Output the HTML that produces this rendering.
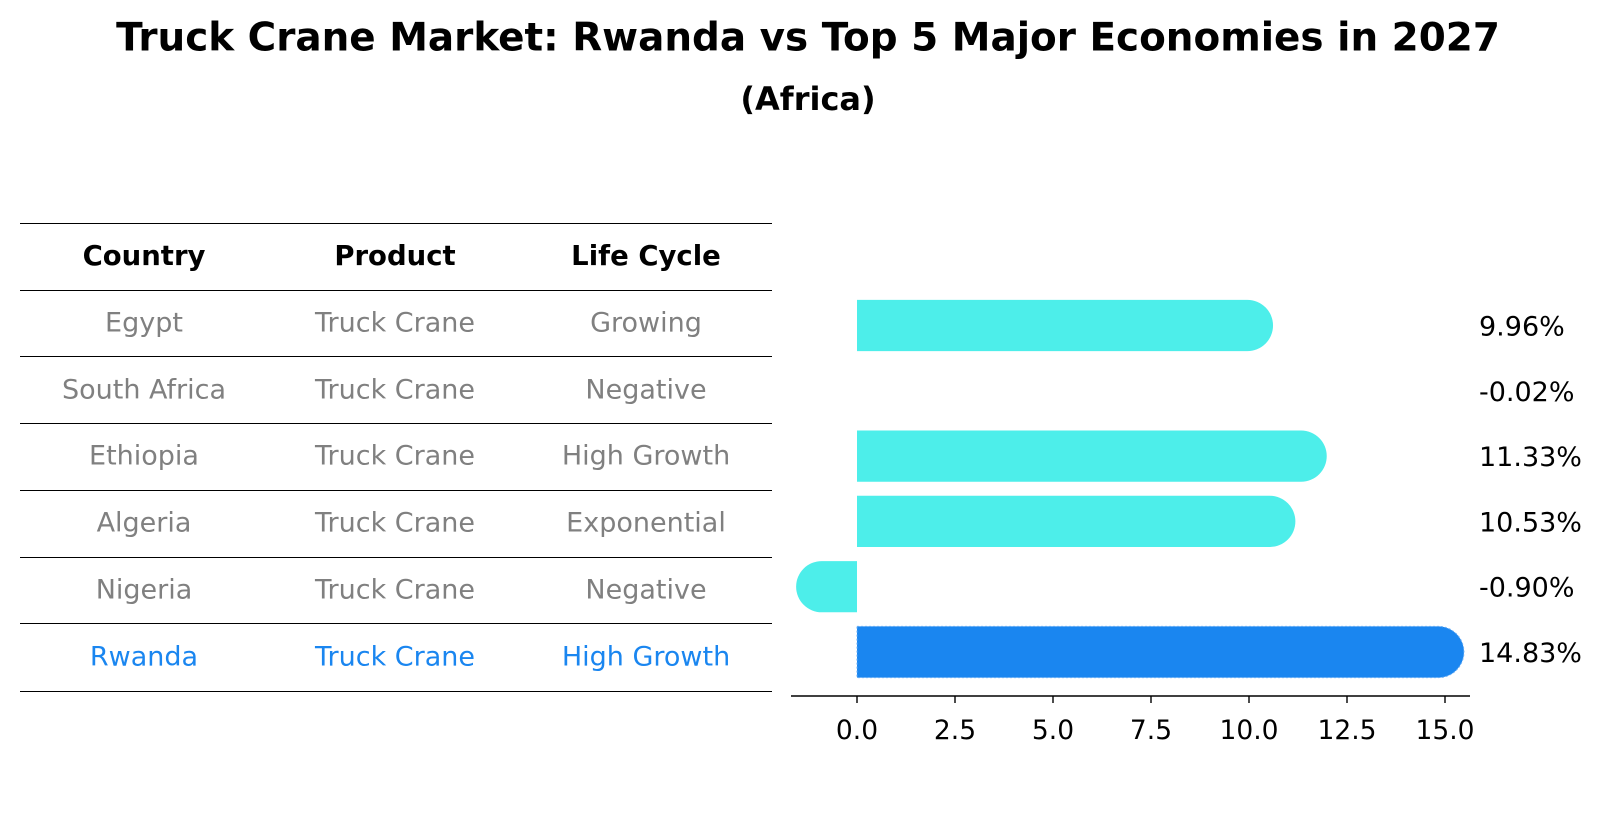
<!DOCTYPE html>
<html><head><meta charset="utf-8"><style>
body{margin:0;background:#fff;font-family:"DejaVu Sans","Liberation Sans",sans-serif;}
#root{position:relative;width:1604px;height:823px;overflow:hidden;}
.t{position:absolute;white-space:nowrap;transform:translate(-50%,-50%);}
.hl{position:absolute;left:20px;width:752px;height:1.4px;background:#000;}
</style></head><body>
<div id="root">
<div class="t" style="left:808px;top:38px;font-size:38.9px;font-weight:bold;">Truck Crane Market: Rwanda vs Top 5 Major Economies in 2027</div>
<div class="t" style="left:808px;top:99px;font-size:32px;font-weight:bold;">(Africa)</div>
<div id="table"></div>
<svg id="chart" width="1604" height="823" style="position:absolute;left:0;top:0;font-family:'DejaVu Sans','Liberation Sans',sans-serif;"></svg>
</div>
<script>
const countries=["Egypt","South Africa","Ethiopia","Algeria","Nigeria","Rwanda"];
const lifecycle=["Growing","Negative","High Growth","Exponential","Negative","High Growth"];
const values=[9.96,-0.02,11.33,10.53,-0.90,14.83];
const ticks=[0,2.5,5,7.5,10,12.5,15];

const tbl=document.getElementById('table');
const lines=[223,290,356,423,490,557,623,691];
lines.forEach(y=>{const d=document.createElement('div');d.className='hl';d.style.top=y+'px';


tbl.appendChild(d);});
const cols=[144,395,646];
function cell(txt,x,y,st,nm){const d=document.createElement('div');d.className='t';d.textContent=txt;d.style.left=x+'px';d.style.top=y+'px';Object.assign(d.style,st);


tbl.appendChild(d);}
["Country","Product","Life Cycle"].forEach((h,i)=>cell(h,cols[i],256,{fontSize:'27.5px',fontWeight:'bold'},'table-header'));
countries.forEach((c,r)=>{const y=323+r*66.7;const col=c==="Rwanda"?'#1a86f0':'#808080';
[c,"Truck Crane",lifecycle[r]].forEach((t,i)=>cell(t,cols[i],y,{fontSize:'27px',color:col},'table-cell'));});

const svg=document.getElementById('chart');const NS='http://www.w3.org/2000/svg';
const x0=857,ppu=39.2;const X=v=>x0+v*ppu;
const Y=i=>325.5+i*65.3;const r=25.6;
function el(t,a){const e=document.createElementNS(NS,t);for(const k in a)e.setAttribute(k,a[k]);svg.appendChild(e);return e;}
values.forEach((v,i)=>{const yc=Y(i);const xe=X(v);const isR=countries[i]==="Rwanda";
if(Math.abs(xe-x0)<1){return;}
let d;
if(v>=0){d=`M${x0},${yc-r} L${xe},${yc-r} A${r},${r} 0 0 1 ${xe},${yc+r} L${x0},${yc+r} Z`;}
else{d=`M${x0},${yc-r} L${xe},${yc-r} A${r},${r} 0 0 0 ${xe},${yc+r} L${x0},${yc+r} Z`;}
const p=el('path',{d:d,fill:isR?'#1a86f0':'#4deeea'});
if(isR){p.setAttribute('stroke','#6aaef5');p.setAttribute('stroke-dasharray','2,2');}


});
values.forEach((v,i)=>{const t=el('text',{x:1479,y:Y(i)+10,'font-size':'27'});t.textContent=v.toFixed(2)+'%';

});
const ax=el('line',{x1:791,x2:1470,y1:696,y2:696,stroke:'#000','stroke-width':1.6});


ticks.forEach(v=>{const l=el('line',{x1:X(v),x2:X(v),y1:696,y2:703,stroke:'#000','stroke-width':1.4});


const t=el('text',{x:X(v),y:739,'font-size':'26.5','text-anchor':'middle'});t.textContent=v.toFixed(1);

});
</script>
</body></html>
